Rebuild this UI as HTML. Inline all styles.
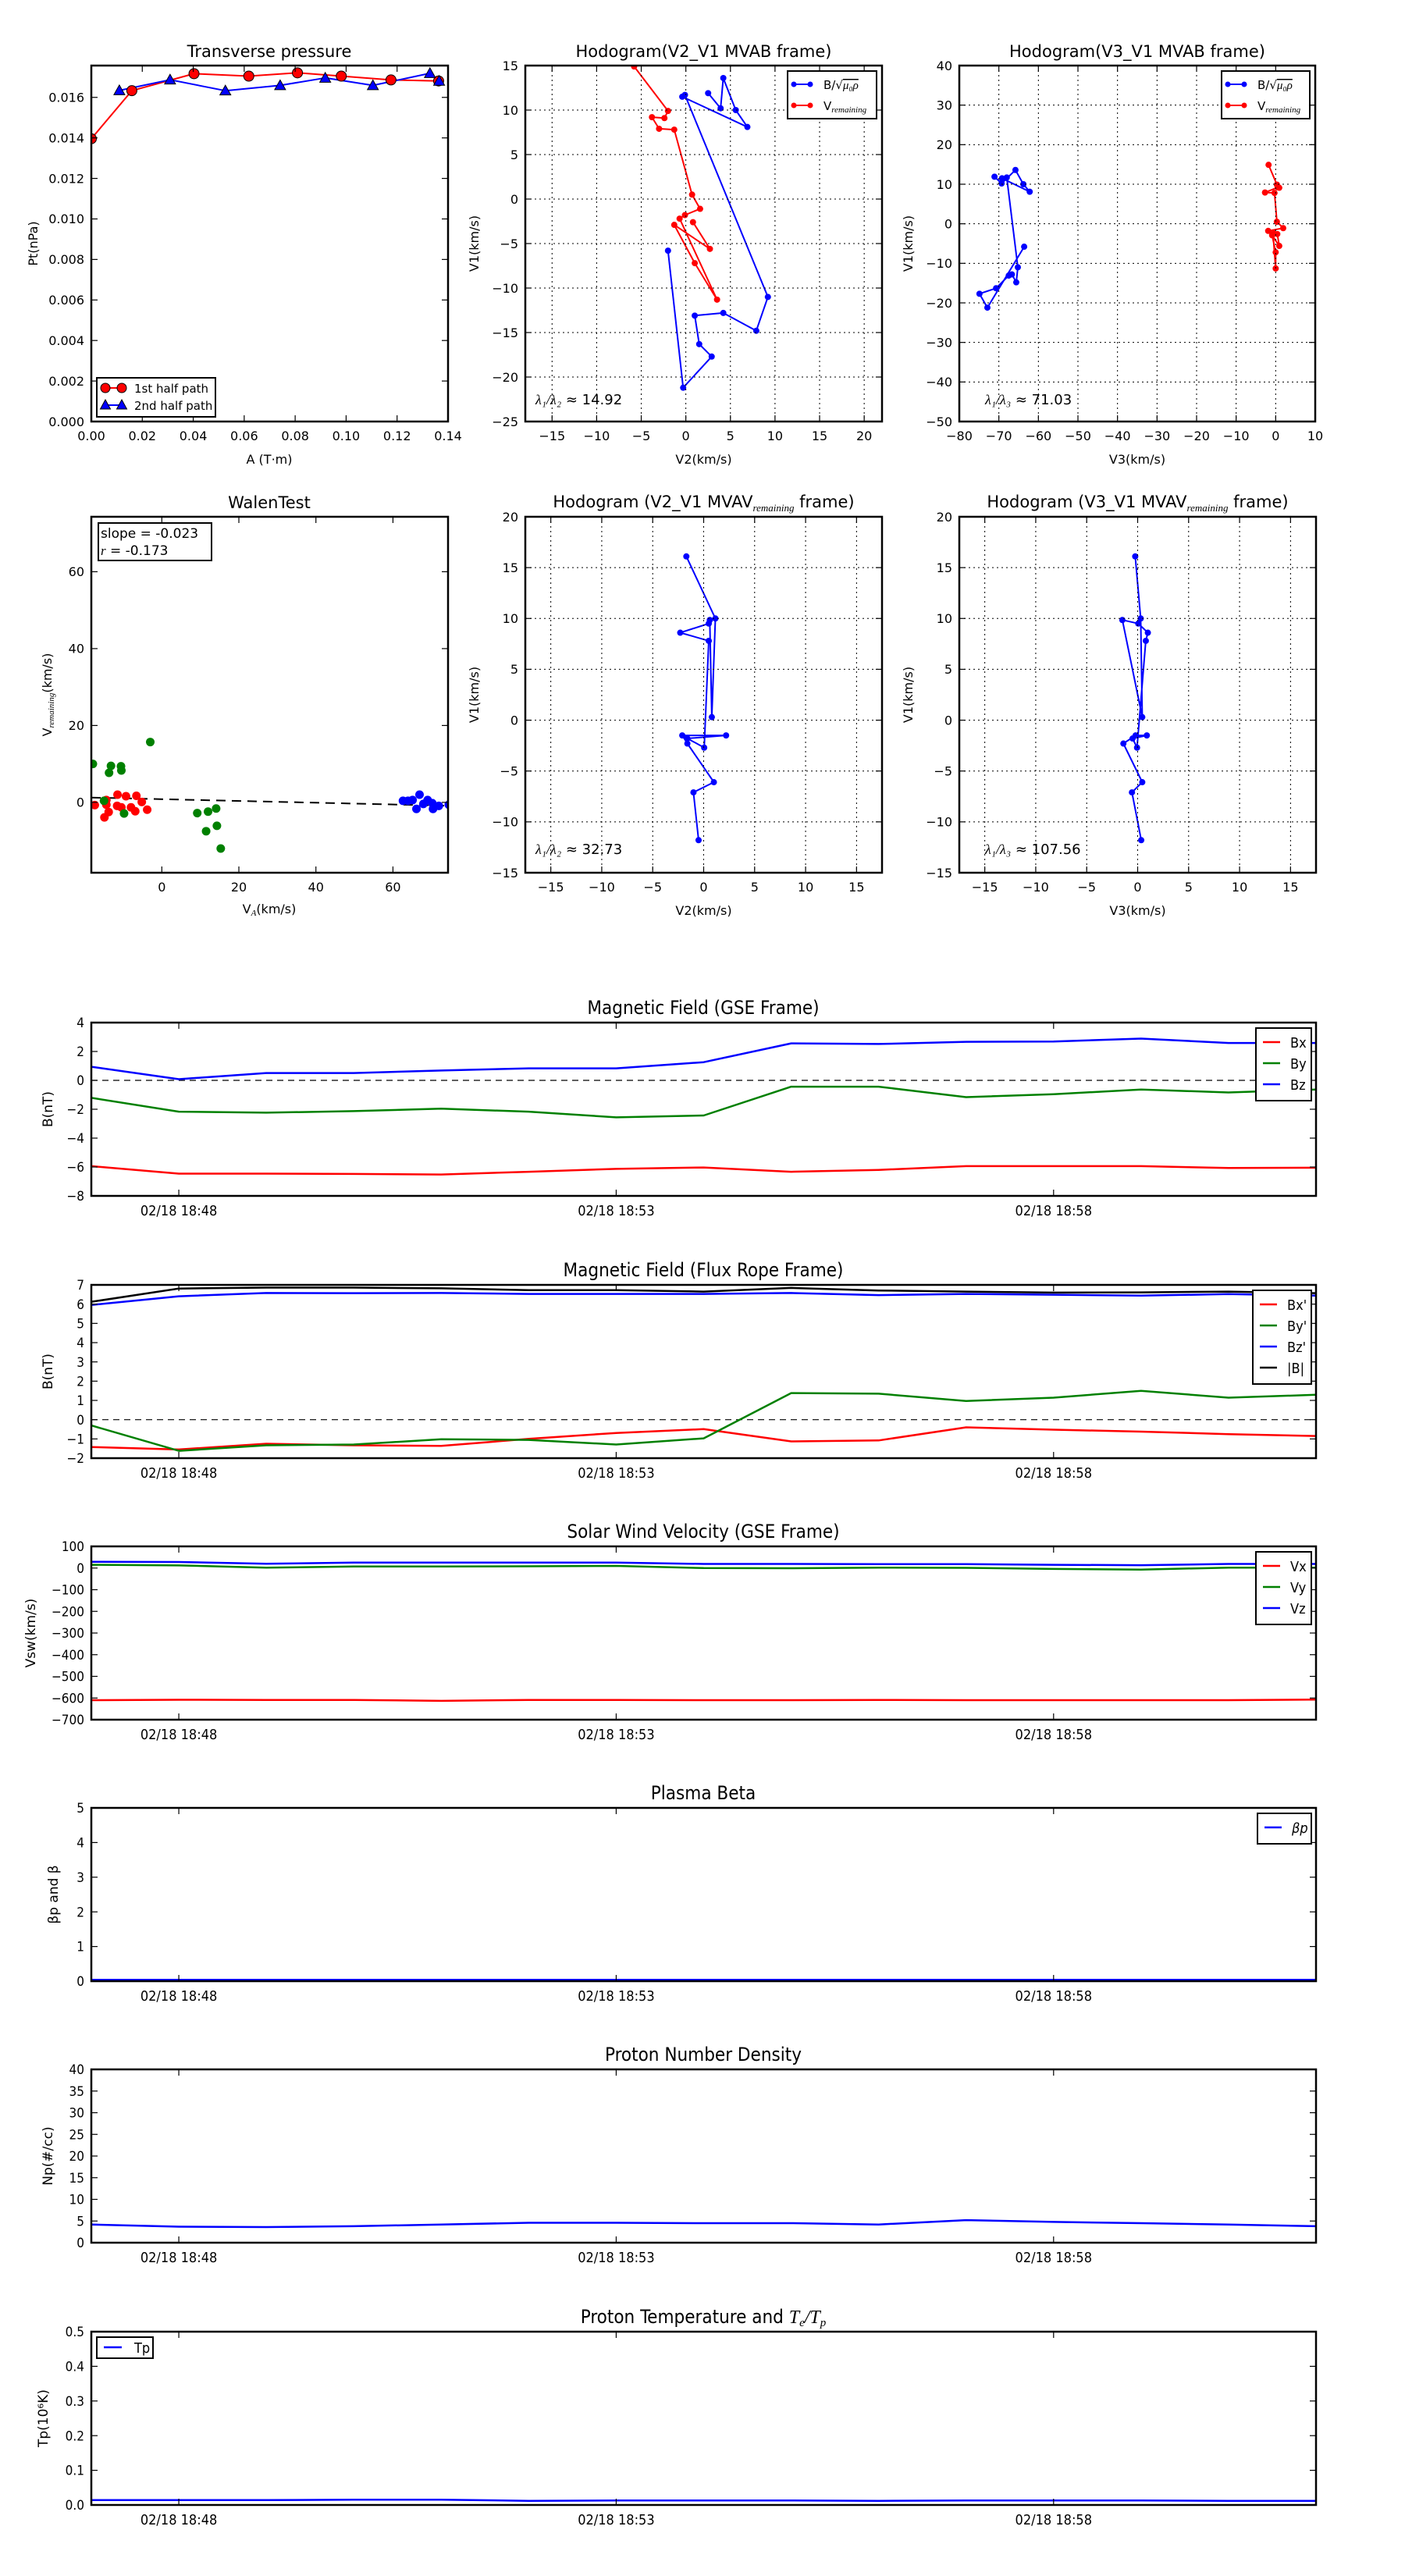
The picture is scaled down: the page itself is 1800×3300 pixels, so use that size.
<!DOCTYPE html>
<html><head><meta charset="utf-8"><style>
html,body{margin:0;padding:0;background:#fff;}
svg{display:block;}
text{font-family:"DejaVu Sans","Liberation Sans",sans-serif;fill:#000;}
.cond{font-stretch:condensed;font-family:"DejaVu Sans Condensed","DejaVu Sans","Liberation Sans",sans-serif;}
</style></head><body>
<svg id="fig" xmlns="http://www.w3.org/2000/svg" width="1800" height="3300" viewBox="0 0 1800 3300"><defs id="defs"></defs><rect x="0" y="0" width="1800" height="3300" fill="#fff"/></svg>
<script>
// ---------- data: transverse pressure ----------
const tpA1=[0.0,0.0159,0.0403,0.0618,0.0809,0.0981,0.1176,0.1363];
const tpPt1=[0.01396,0.01633,0.01717,0.01705,0.01721,0.01705,0.01686,0.01681];
const tpA2=[0.011,0.0309,0.0526,0.0741,0.0918,0.1105,0.1329,0.1365];
const tpPt2=[0.01634,0.01687,0.01633,0.01659,0.01696,0.01659,0.01719,0.01681];
const tpXTicks=[0,0.02,0.04,0.06,0.08,0.10,0.12,0.14];
const tpXLabels=['0.00','0.02','0.04','0.06','0.08','0.10','0.12','0.14'];
const tpYTicks=[0,0.002,0.004,0.006,0.008,0.010,0.012,0.014,0.016];
const tpYLabels=['0.000','0.002','0.004','0.006','0.008','0.010','0.012','0.014','0.016'];
// ---------- data: MVAB hodograms ----------
const hbV1=[-5.8,-21.2,-17.7,-16.3,-13.1,-12.8,-14.8,-11.0,11.7,11.5,8.1,10.0,13.6,10.2,11.9];
const hbV2=[-2.0,-0.3,2.9,1.5,1.0,4.2,7.9,9.2,-0.1,-0.4,6.9,5.6,4.2,3.9,2.5];
const hbV3=[-63.6,-72.9,-74.9,-70.7,-67.5,-66.7,-65.6,-65.2,-68.0,-69.2,-62.2,-63.8,-65.8,-69.3,-71.1];
const hrV1=[14.9,9.9,9.1,9.2,7.9,7.8,0.5,-1.1,-1.8,-2.2,-11.3,-7.2,-2.9,-5.6,-2.6];
const hrV2=[-5.8,-2.0,-2.4,-3.8,-3.0,-1.3,0.7,1.6,-0.1,-0.7,3.5,1.0,-1.3,2.7,0.8];
const hrV3=[-1.8,0.3,0.9,0.5,-2.7,-0.3,0.3,1.9,-1.9,-0.7,0.0,0.0,-0.9,0.9,0.4];
const ratioLabels=['14.92','71.03','32.73','107.56'];
// ---------- data: MVAV hodograms ----------
const mvV1=[16.1,10.0,0.3,9.85,9.5,8.6,7.8,-2.7,-1.8,-1.5,-1.5,-2.3,-6.1,-7.1,-11.8];
const mvV2=[-1.7,1.15,0.8,0.6,0.5,-2.3,0.5,0.05,-1.6,2.2,-2.1,-1.6,1.0,-1.0,-0.5];
const mvV3=[-0.24,0.3,0.45,-1.5,0.06,1.0,0.8,-0.06,-0.5,0.9,-0.2,-1.4,0.45,-0.56,0.35];
// ---------- data: Walen test ----------
const wRedX=[-17.4,-14.9,-14.4,-14.4,-13.8,-11.5,-11.6,-10.5,-9.3,-8.0,-6.9,-6.6,-5.2,-3.8];
const wRedY=[-0.7,-3.9,0.6,-0.6,-2.5,2.0,-0.9,-1.3,1.6,-1.3,-2.3,1.7,0.1,-1.9];
const wGreenX=[-17.9,-15.0,-13.7,-13.2,-10.6,-10.5,-9.8,-3.0,9.2,11.5,12.0,14.1,14.3,15.3];
const wGreenY=[10.0,0.4,7.7,9.5,9.4,8.3,-2.9,15.7,-2.8,-7.5,-2.4,-1.6,-6.1,-12.0];
const wBlueX=[62.6,63.9,65.1,66.1,66.9,67.9,69.0,70.2,70.4,71.9,74.5];
const wBlueY=[0.4,0.4,0.6,-1.7,2.0,-0.4,0.6,-0.2,-1.7,-0.9,-0.6];
const wSlope=-0.023;
const wIntercept=0.84;
const wTicks=[0,20,40,60];
// ---------- data: time series (one sample per minute, 18:47 .. 19:01) ----------
const tsMinutes=[0,1,2,3,4,5,6,7,8,9,10,11,12,13,14];
const tsTickMinutes=[1,6,11];
const tsTickLabels=['02/18 18:48','02/18 18:53','02/18 18:58'];
const gseBx=[-5.94,-6.46,-6.46,-6.48,-6.52,-6.33,-6.13,-6.03,-6.33,-6.2,-5.94,-5.94,-5.94,-6.07,-6.05];
const gseBy=[-1.21,-2.17,-2.24,-2.13,-1.96,-2.17,-2.56,-2.43,-0.44,-0.44,-1.16,-0.96,-0.63,-0.84,-0.63];
const gseBz=[0.94,0.08,0.51,0.51,0.68,0.83,0.83,1.26,2.56,2.52,2.67,2.69,2.89,2.59,2.59];
const frBx=[-1.42,-1.55,-1.25,-1.33,-1.36,-1.0,-0.69,-0.49,-1.13,-1.08,-0.4,-0.52,-0.62,-0.75,-0.85];
const frBy=[-0.3,-1.62,-1.33,-1.29,-1.02,-1.05,-1.29,-0.97,1.38,1.35,0.97,1.14,1.5,1.14,1.29];
const frBz=[5.96,6.41,6.58,6.57,6.58,6.53,6.53,6.53,6.58,6.47,6.53,6.49,6.44,6.52,6.44];
const frBt=[6.12,6.81,6.86,6.86,6.82,6.73,6.73,6.65,6.84,6.71,6.65,6.6,6.61,6.65,6.57];
const vx=[-610,-608,-609,-609,-613,-609,-609,-610,-610,-609,-610,-610,-610,-610,-607];
const vy=[15,12,2,7,7,8,10,0,-1,2,1,-4,-7,2,2];
const vz=[29,28,20,25,25,25,25,19,19,18,18,15,13,19,19];
const betaP=[0.04,0.04,0.04,0.04,0.04,0.04,0.04,0.04,0.04,0.04,0.04,0.04,0.04,0.04,0.04];
const np=[4.2,3.7,3.6,3.8,4.2,4.6,4.6,4.5,4.5,4.2,5.2,4.8,4.5,4.2,3.8];
const tp=[0.014,0.014,0.014,0.015,0.015,0.012,0.013,0.013,0.013,0.012,0.013,0.013,0.013,0.012,0.012];

// ---------- helpers ----------
const NS='http://www.w3.org/2000/svg';
const svg=document.getElementById('fig');
const defs=document.getElementById('defs');
function mk(tag,attrs,parent){const e=document.createElementNS(NS,tag);for(const k in attrs)e.setAttribute(k,attrs[k]);(parent||svg).appendChild(e);return e;}
function nm(e,n){
  
  
  return e;
}
function txt(s,x,y,size,anchor,parent,cls,extra){
  const a=Object.assign({x:x,y:y,'font-size':size,'text-anchor':anchor||'middle'},extra||{});
  if(cls)a['class']=cls;
  const t=mk('text',a,parent);t.textContent=s;return t;
}
let clipId=0;
function makeAxes(id,L,T,R,B,xr,yr){
  const g=mk('g',{});
  nm(g,id);
  const sx=v=>L+(v-xr[0])/(xr[1]-xr[0])*(R-L);
  const sy=v=>B-(v-yr[0])/(yr[1]-yr[0])*(B-T);
  clipId++;
  const cp=mk('clipPath',{id:'cp'+clipId},defs);
  mk('rect',{x:L,y:T,width:R-L,height:B-T},cp);
  const data=mk('g',{'clip-path':'url(#cp'+clipId+')'},g);
  nm(data,id+'-plot-area');
  return {g,data,sx,sy,L,T,R,B,id};
}
function frame(ax){
  const r=mk('rect',{x:ax.L,y:ax.T,width:ax.R-ax.L,height:ax.B-ax.T,fill:'none',stroke:'#000','stroke-width':2.5},ax.g);
  nm(r,ax.id+'-frame');
}
function xTicks(ax,vals,labels,o){
  o=o||{};
  const size=o.size||16, cls=o.cls||'';
  vals.forEach((v,i)=>{
    const x=ax.sx(v);
    if(o.grid){const gl=mk('line',{x1:x,y1:ax.T,x2:x,y2:ax.B,stroke:'#000','stroke-width':1,'stroke-dasharray':'2,4'},ax.g);nm(gl,'x-grid-line');}
    const t1=mk('line',{x1:x,y1:ax.B,x2:x,y2:ax.B-8,stroke:'#000','stroke-width':1.2},ax.g);
    nm(t1,'x-tick');
    const t2=mk('line',{x1:x,y1:ax.T,x2:x,y2:ax.T+8,stroke:'#000','stroke-width':1.2},ax.g);
    nm(t2,'x-tick-top');
    const lb=txt(labels[i],x,ax.B+(o.dy||24),size,'middle',ax.g,cls);
    nm(lb,'x-tick-label');
  });
}
function yTicks(ax,vals,labels,o){
  o=o||{};
  const size=o.size||16, cls=o.cls||'';
  vals.forEach((v,i)=>{
    const y=ax.sy(v);
    if(o.grid){const gl=mk('line',{x1:ax.L,y1:y,x2:ax.R,y2:y,stroke:'#000','stroke-width':1,'stroke-dasharray':'2,4'},ax.g);nm(gl,'y-grid-line');}
    const t1=mk('line',{x1:ax.L,y1:y,x2:ax.L+8,y2:y,stroke:'#000','stroke-width':1.2},ax.g);
    nm(t1,'y-tick');
    const t2=mk('line',{x1:ax.R,y1:y,x2:ax.R-8,y2:y,stroke:'#000','stroke-width':1.2},ax.g);
    nm(t2,'y-tick-right');
    if(labels){const lb=txt(labels[i],ax.L-(o.dx||9),y+size*0.36,size,'end',ax.g,cls);nm(lb,'y-tick-label');}
  });
}
function poly(ax,xs,ys,color,w,dash){
  const pts=xs.map((x,i)=>ax.sx(x).toFixed(1)+','+ax.sy(ys[i]).toFixed(1)).join(' ');
  const a={points:pts,fill:'none',stroke:color,'stroke-width':w||2,'stroke-linejoin':'round'};
  if(dash)a['stroke-dasharray']=dash;
  return mk('polyline',a,ax.data);
}
function title(s,x,y,size,parent,cls){return txt(s,x,y,size,'middle',parent||svg,cls);}
function ylabel(s,x,y,size,parent,cls){
  const t=txt(s,x,y,size,'middle',parent||svg,cls,{transform:'rotate(-90 '+x+' '+y+')'});return t;
}
function range(a,b,s){const r=[];for(let v=a;v<=b+1e-9;v+=s)r.push(Math.round(v*1000)/1000);return r;}
function neg(v){return (v<0?'\u2212':'')+Math.abs(v);}

// ---------- Panel 1: transverse pressure ----------
(function(){
  const ax=makeAxes('transverse-pressure-chart',117,84,574,540,[0,0.14],[0,0.01757]);
  const l1=poly(ax,tpA1,tpPt1,'#f00',2);
  nm(l1,'first-half-path-line');
  const l2=poly(ax,tpA2,tpPt2,'#00f',2);
  nm(l2,'second-half-path-line');
  tpA1.forEach((a,i)=>{
    const c=mk('circle',{cx:ax.sx(a),cy:ax.sy(tpPt1[i]),r:6.5,fill:'#f00',stroke:'#000','stroke-width':1},ax.data);
    nm(c,'first-half-marker');
  });
  tpA2.forEach((a,i)=>{
    const x=ax.sx(a),y=ax.sy(tpPt2[i]);
    const p=mk('polygon',{points:`${x},${y-7} ${x-7},${y+5.5} ${x+7},${y+5.5}`,fill:'#00f',stroke:'#000','stroke-width':1},ax.data);
    nm(p,'second-half-marker');
  });
  xTicks(ax,tpXTicks,tpXLabels);
  yTicks(ax,tpYTicks,tpYLabels);
  frame(ax);
  const t=title('Transverse pressure',345,73,21);
  nm(t,'transverse-pressure-title');
  const xl=txt('A (T\u00b7m)',345,594,16);
  nm(xl,'x-axis-title');
  const yl=ylabel('Pt(nPa)',48,312,16);
  nm(yl,'y-axis-title');
  const lg=mk('g',{});
  nm(lg,'legend');
  const box=mk('rect',{x:124,y:484,width:152,height:50,fill:'#fff',stroke:'#000','stroke-width':2},lg);
  nm(box,'legend-box');
  const ll1=mk('line',{x1:135,y1:497,x2:156,y2:497,stroke:'#f00','stroke-width':2},lg);
  nm(ll1,'legend-line-first');
  [135,156].forEach(x=>{const c=mk('circle',{cx:x,cy:497,r:6,fill:'#f00',stroke:'#000','stroke-width':1},lg);nm(c,'legend-marker-first');});
  const ll2=mk('line',{x1:135,y1:519,x2:156,y2:519,stroke:'#00f','stroke-width':2},lg);
  nm(ll2,'legend-line-second');
  [135,156].forEach(x=>{const p=mk('polygon',{points:`${x},${512} ${x-6.5},${524} ${x+6.5},${524}`,fill:'#00f',stroke:'#000','stroke-width':1},lg);nm(p,'legend-marker-second');});
  const e1=txt('1st half path',172,503,15,'start',lg);
  nm(e1,'legend-entry-first-half');
  const e2=txt('2nd half path',172,525,15,'start',lg);
  nm(e2,'legend-entry-second-half');
})();

// ---------- hodogram helper ----------
function hodo(id,L,T,R,B,xr,yr,xt,yt,series,ttl,xlab,ratioText,ratioX,ratioY,legend,subTitle){
  const ax=makeAxes(id,L,T,R,B,xr,yr);
  xTicks(ax,xt,xt.map(neg),{grid:true});
  yTicks(ax,yt,yt.map(neg),{grid:true});
  series.forEach(s=>{
    const l=poly(ax,s.x,s.y,s.c,2);
    nm(l,s.name+'-line');
    s.x.forEach((v,i)=>{
      const c=mk('circle',{cx:ax.sx(v),cy:ax.sy(s.y[i]),r:4,fill:s.c},ax.data);
      nm(c,s.name+'-point');
    });
  });
  frame(ax);
  const cx=(L+R)/2;
  let t;
  if(subTitle){
    t=mk('text',{x:cx,y:T-12,'font-size':21,'text-anchor':'middle'});
    const a=mk('tspan',{},t);a.textContent=ttl[0];
    const b=mk('tspan',{'font-size':13,'font-style':'italic','font-family':'"Liberation Serif",serif',dy:5},t);b.textContent='remaining';
    const c=mk('tspan',{dy:-5},t);c.textContent=' '+ttl[1];
  } else {
    t=title(ttl,cx,T-11,21);
  }
  nm(t,id+'-title');
  const xl=txt(xlab,cx,B+54,16);
  nm(xl,'x-axis-title');
  const yl=ylabel('V1(km/s)',L-60,(T+B)/2,16);
  nm(yl,'y-axis-title');
  const r=mk('text',{x:ratioX,y:ratioY,'font-size':18});
  const r1=mk('tspan',{'font-style':'italic','font-family':'"Liberation Serif",serif'},r);r1.textContent=ratioText[0];
  const r2=mk('tspan',{},r);r2.textContent=' \u2248 '+ratioText[1];
  nm(r,id+'-eigenvalue-ratio');
  if(legend){
    const lg=mk('g',{});
    nm(lg,'legend');
    const bx=mk('rect',{x:legend.x,y:legend.y,width:legend.w,height:61,fill:'#fff',stroke:'#000','stroke-width':2},lg);
    nm(bx,'legend-box');
    const rows=[{c:'#00f',n:'legend-entry-b-alfven'},{c:'#f00',n:'legend-entry-v-remaining'}];
    rows.forEach((rw,i)=>{
      const yy=legend.y+17+i*27;
      const ln=mk('line',{x1:legend.x+8,y1:yy,x2:legend.x+29,y2:yy,stroke:rw.c,'stroke-width':2},lg);
      nm(ln,rw.n+'-line');
      [legend.x+8,legend.x+29].forEach(x=>{const c=mk('circle',{cx:x,cy:yy,r:3.5,fill:rw.c},lg);nm(c,rw.n+'-marker');});
      const tt=mk('text',{x:legend.x+46,y:yy+6,'font-size':15},lg);
      if(i===0){
        const a=mk('tspan',{},tt);a.textContent='B/\u221a';
        const b=mk('tspan',{'font-style':'italic','font-family':'"Liberation Serif",serif','text-decoration':'overline'},tt);b.textContent='\u03bc\u2080\u03c1';
      } else {
        const a=mk('tspan',{},tt);a.textContent='V';
        const b=mk('tspan',{'font-style':'italic','font-family':'"Liberation Serif",serif','font-size':11,dy:3},tt);b.textContent='remaining';
      }
      nm(tt,rw.n);
    });
  }
  return ax;
}
hodo('hodogram-v2-v1-mvab',673,84,1130,540,[-18,22],[-25,15],range(-15,20,5),range(-25,15,5),
  [{x:hbV2,y:hbV1,c:'#00f',name:'b-alfven'},{x:hrV2,y:hrV1,c:'#f00',name:'v-remaining'}],
  'Hodogram(V2_V1 MVAB frame)','V2(km/s)',['\u03bb\u2081/\u03bb\u2082',ratioLabels[0]],686,518,{x:1009,y:91,w:114},false);
hodo('hodogram-v3-v1-mvab',1229,84,1685,540,[-80,10],[-50,40],range(-80,10,10),range(-50,40,10),
  [{x:hbV3,y:hbV1,c:'#00f',name:'b-alfven'},{x:hrV3,y:hrV1,c:'#f00',name:'v-remaining'}],
  'Hodogram(V3_V1 MVAB frame)','V3(km/s)',['\u03bb\u2081/\u03bb\u2083',ratioLabels[1]],1262,518,{x:1565,y:91,w:113},false);
hodo('hodogram-v2-v1-mvav',673,662,1130,1118,[-17.5,17.5],[-15,20],range(-15,15,5),range(-15,20,5),
  [{x:mvV2,y:mvV1,c:'#00f',name:'b-alfven'}],
  ['Hodogram (V2_V1 MVAV','frame)'],'V2(km/s)',['\u03bb\u2081/\u03bb\u2082',ratioLabels[2]],686,1094,null,true);
hodo('hodogram-v3-v1-mvav',1229,662,1686,1118,[-17.5,17.5],[-15,20],range(-15,15,5),range(-15,20,5),
  [{x:mvV3,y:mvV1,c:'#00f',name:'b-alfven'}],
  ['Hodogram (V3_V1 MVAV','frame)'],'V3(km/s)',['\u03bb\u2081/\u03bb\u2083',ratioLabels[3]],1262,1094,null,true);

// ---------- Walen test ----------
(function(){
  const ax=makeAxes('walen-test-chart',117,662,574,1118,[-18.3,74.3],[-18.3,74.3]);
  const xs=[-18.3,74.3];
  const fl=poly(ax,xs,xs.map(x=>wIntercept+wSlope*x),'#000',2,'12,8');
  nm(fl,'fit-line');
  [[wRedX,wRedY,'#f00','red-point'],[wGreenX,wGreenY,'#008000','green-point'],[wBlueX,wBlueY,'#00f','blue-point']].forEach(s=>{
    s[0].forEach((x,i)=>{
      const c=mk('circle',{cx:ax.sx(x),cy:ax.sy(s[1][i]),r:5.5,fill:s[2]},ax.data);
      nm(c,s[3]);
    });
  });
  xTicks(ax,wTicks,wTicks.map(String));
  yTicks(ax,wTicks,wTicks.map(String));
  frame(ax);
  const t=title('WalenTest',345,651,21);
  nm(t,'walen-test-title');
  const xl=mk('text',{x:345,y:1170,'font-size':16,'text-anchor':'middle'});
  const a=mk('tspan',{},xl);a.textContent='V';
  const b=mk('tspan',{'font-size':11,'font-style':'italic','font-family':'"Liberation Serif",serif',dy:3},xl);b.textContent='A';
  const c=mk('tspan',{dy:-3},xl);c.textContent='(km/s)';
  nm(xl,'x-axis-title');
  const yl=mk('text',{x:66,y:890,'font-size':16,'text-anchor':'middle',transform:'rotate(-90 66 890)'});
  const ya=mk('tspan',{},yl);ya.textContent='V';
  const yb=mk('tspan',{'font-size':11,'font-style':'italic','font-family':'"Liberation Serif",serif',dy:3},yl);yb.textContent='remaining';
  const yc=mk('tspan',{dy:-3},yl);yc.textContent='(km/s)';
  nm(yl,'y-axis-title');
  const bx=mk('rect',{x:126,y:670,width:145,height:48,fill:'#fff',stroke:'#000','stroke-width':2});
  nm(bx,'stats-box');
  const s1=txt('slope = -0.023',129,689,17,'start');
  nm(s1,'slope-text');
  const s2=mk('text',{x:129,y:711,'font-size':17});
  const s2a=mk('tspan',{'font-style':'italic','font-family':'"Liberation Serif",serif'},s2);s2a.textContent='r';
  const s2b=mk('tspan',{},s2);s2b.textContent=' = -0.173';
  nm(s2,'r-text');
})();

// ---------- time series ----------
function ts(id,T,yr,yt,ylabels,series,ttl,ylab,legend,zeroLine){
  const ax=makeAxes(id,117,T,1686,T+222,[0,14],yr);
  if(zeroLine){const z=poly(ax,[0,14],[0,0],'#000',1.2,'8,6');nm(z,'zero-line');}
  series.forEach(s=>{const l=poly(ax,tsMinutes,s.v,s.c,2.5);nm(l,s.name+'-line');});
  xTicks(ax,tsTickMinutes,tsTickLabels,{size:18,cls:'cond',dy:25});
  yTicks(ax,yt,ylabels,{size:17,cls:'cond'});
  frame(ax);
  const t=mk('text',{x:901,y:T-11,'font-size':24,'text-anchor':'middle','class':'cond'});
  if(Array.isArray(ttl)){
    const a=mk('tspan',{},t);a.textContent=ttl[0];
    const b=mk('tspan',{'font-style':'italic','font-family':'"Liberation Serif",serif'},t);b.textContent='T';
    const c=mk('tspan',{'font-style':'italic','font-family':'"Liberation Serif",serif','font-size':15,dy:4},t);c.textContent='e';
    const d=mk('tspan',{'font-style':'italic','font-family':'"Liberation Serif",serif',dy:-4},t);d.textContent='/T';
    const e=mk('tspan',{'font-style':'italic','font-family':'"Liberation Serif",serif','font-size':15,dy:4},t);e.textContent='p';
  } else t.textContent=ttl;
  nm(t,id+'-title');
  const yl=ylabel(ylab[0],ylab[1],T+111,17);
  nm(yl,'y-axis-title');
  if(legend){
    const lg=mk('g',{});
    nm(lg,'legend');
    const h=legend.items.length*27+12;
    const bx=mk('rect',{x:legend.x,y:T+7,width:legend.w,height:h,fill:'#fff',stroke:'#000','stroke-width':2},lg);
    nm(bx,'legend-box');
    legend.items.forEach((it,i)=>{
      const yy=T+7+18+i*27;
      const ln=mk('line',{x1:legend.x+9,y1:yy,x2:legend.x+31,y2:yy,stroke:it.c,'stroke-width':2.5},lg);
      nm(ln,'legend-line');
      const tt=txt(it.t,legend.x+44,yy+7,18,'start',lg,'cond',it.it?{'font-style':'italic','font-family':'"Liberation Serif",serif',fill:'#555'}:null);
      nm(tt,'legend-entry-'+it.t.replace(/[^A-Za-z]/g,'').toLowerCase());
    });
  }
  return ax;
}
const TT=[1310,1646,1981,2316,2651,2987];
ts('magnetic-field-gse',TT[0],[-8,4],range(-8,4,2),range(-8,4,2).map(neg),
  [{v:gseBx,c:'#f00',name:'bx'},{v:gseBy,c:'#008000',name:'by'},{v:gseBz,c:'#00f',name:'bz'}],
  'Magnetic Field (GSE Frame)',['B(nT)',67],{x:1609,w:71,items:[{t:'Bx',c:'#f00'},{t:'By',c:'#008000'},{t:'Bz',c:'#00f'}]},true);
ts('magnetic-field-flux-rope',TT[1],[-2,7],range(-2,7,1),range(-2,7,1).map(neg),
  [{v:frBx,c:'#f00',name:'bx-prime'},{v:frBy,c:'#008000',name:'by-prime'},{v:frBz,c:'#00f',name:'bz-prime'},{v:frBt,c:'#000',name:'b-magnitude'}],
  'Magnetic Field (Flux Rope Frame)',['B(nT)',67],{x:1605,w:75,items:[{t:"Bx'",c:'#f00'},{t:"By'",c:'#008000'},{t:"Bz'",c:'#00f'},{t:'|B|',c:'#000'}]},true);
ts('solar-wind-velocity',TT[2],[-700,100],range(-700,100,100),range(-700,100,100).map(neg),
  [{v:vx,c:'#f00',name:'vx'},{v:vy,c:'#008000',name:'vy'},{v:vz,c:'#00f',name:'vz'}],
  'Solar Wind Velocity (GSE Frame)',['Vsw(km/s)',45],{x:1609,w:71,items:[{t:'Vx',c:'#f00'},{t:'Vy',c:'#008000'},{t:'Vz',c:'#00f'}]},false);
ts('plasma-beta',TT[3],[0,5],range(0,5,1),range(0,5,1).map(String),
  [{v:betaP,c:'#00f',name:'beta-p'}],
  'Plasma Beta',['\u03b2p and \u03b2',74],{x:1611,w:69,items:[{t:'\u03b2p',c:'#00f',it:true}]},false);
ts('proton-number-density',TT[4],[0,40],range(0,40,5),range(0,40,5).map(String),
  [{v:np,c:'#00f',name:'np'}],
  'Proton Number Density',['Np(#/cc)',67],null,false);
const tempAx=ts('proton-temperature',TT[5],[0,0.5],range(0,0.5,0.1),['0.0','0.1','0.2','0.3','0.4','0.5'],
  [{v:tp,c:'#00f',name:'tp'}],
  ['Proton Temperature and ',''],['Tp(10\u2076K)',61],null,false);
(function(){
  const lg=mk('g',{});
  nm(lg,'legend');
  const bx=mk('rect',{x:124,y:TT[5]+7,width:72,height:27,fill:'#fff',stroke:'#000','stroke-width':2},lg);
  nm(bx,'legend-box');
  const ln=mk('line',{x1:133,y1:TT[5]+20,x2:156,y2:TT[5]+20,stroke:'#00f','stroke-width':2.5},lg);
  nm(ln,'legend-line');
  const t=txt('Tp',172,TT[5]+27,18,'start',lg,'cond');
  nm(t,'legend-entry-tp');
})();
</script>
</body></html>
